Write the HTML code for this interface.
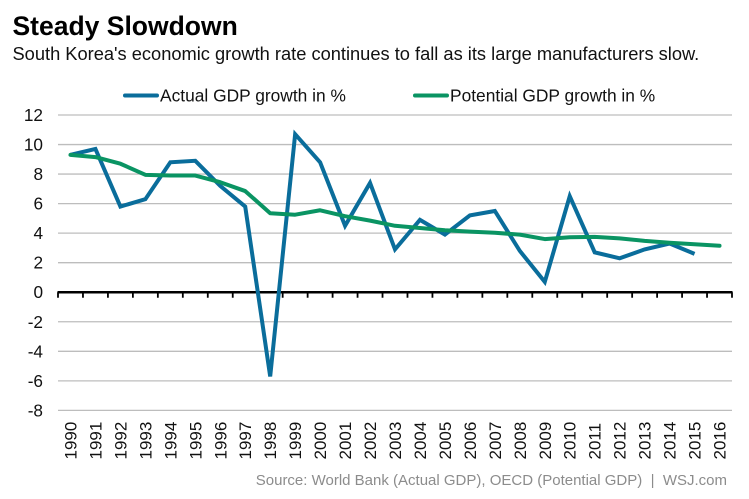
<!DOCTYPE html>
<html>
<head>
<meta charset="utf-8">
<style>
html,body{margin:0;padding:0;background:#fff;width:749px;height:499px;overflow:hidden}
svg{display:block}
text{font-family:"Liberation Sans",Arial,sans-serif;white-space:pre}
</style>
</head>
<body>
<svg id="chart" width="749" height="499" viewBox="0 0 749 499" xmlns="http://www.w3.org/2000/svg">
<rect width="749" height="499" fill="#fff"/>
<text x="12.5" y="35" font-size="26.5" font-weight="bold" fill="#000">Steady Slowdown</text>
<text x="12.5" y="60" font-size="18.28" fill="#111">South Korea's economic growth rate continues to fall as its large manufacturers slow.</text>
<line x1="125" x2="157" y1="95.5" y2="95.5" stroke="#0a6d9b" stroke-width="4" stroke-linecap="round"/>
<text x="160" y="101.5" font-size="17.36" fill="#111">Actual GDP growth in %</text>
<line x1="415" x2="447" y1="95.5" y2="95.5" stroke="#0a9463" stroke-width="4" stroke-linecap="round"/>
<text x="450" y="101.5" font-size="17.36" fill="#111">Potential GDP growth in %</text>
<g id="plot"></g>
<text x="727" y="485" text-anchor="end" font-size="15" fill="#8c8c8c">Source: World Bank (Actual GDP), OECD (Potential GDP)  |  WSJ.com</text>
</svg>
<script>
const years = [1990,1991,1992,1993,1994,1995,1996,1997,1998,1999,2000,2001,2002,2003,2004,2005,2006,2007,2008,2009,2010,2011,2012,2013,2014,2015,2016];
const actualGrowth = [9.3,9.7,5.8,6.3,8.8,8.9,7.2,5.8,-5.7,10.7,8.8,4.5,7.4,2.9,4.9,3.9,5.2,5.5,2.8,0.7,6.5,2.7,2.3,2.9,3.3,2.6];
const potentialGrowth = [9.3,9.15,8.7,7.95,7.9,7.9,7.45,6.85,5.35,5.25,5.55,5.15,4.85,4.5,4.35,4.2,4.1,4.03,3.9,3.6,3.72,3.75,3.65,3.48,3.35,3.25,3.15];
const yTicks = [12,10,8,6,4,2,0,-2,-4,-6,-8];

const NS = 'http://www.w3.org/2000/svg';
const plot = document.getElementById('plot');
const left = 58, right = 732, top_ = 115, bottom = 410.4, yMax = 12, yMin = -8;
const band = (right - left) / years.length;
const xBand = i => left + band * i;
const xPos = i => xBand(i) + band / 2;
const yPos = v => top_ + (yMax - v) * (bottom - top_) / (yMax - yMin);

function make(tag, attrs, text) {
  const el = document.createElementNS(NS, tag);
  for (const k in attrs) el.setAttribute(k, attrs[k]);
  if (text !== undefined) el.textContent = text;
  plot.appendChild(el);
  return el;
}

yTicks.forEach(v => {
  if (v !== 0) {
    const grid = make('line', {x1:left, x2:right, y1:yPos(v), y2:yPos(v), stroke:'#bdbdbd', 'stroke-width':1.3});
    
    
  }
  const lab = make('text', {x:43, y:yPos(v) + 6, 'text-anchor':'end', 'font-size':17.2, fill:'#111'}, String(v));
  
  
});

const axis = make('line', {x1:left - 0.5, x2:right + 0.5, y1:yPos(0), y2:yPos(0), stroke:'#000', 'stroke-width':2.6});



for (let i = 0; i <= years.length; i++) {
  const t = make('line', {x1:xBand(i), x2:xBand(i), y1:yPos(0), y2:yPos(0) + 5.5, stroke:'#000', 'stroke-width':1.8});
  
  
}

years.forEach((yr, i) => {
  const x = xPos(i) + 6, y = 459.5;
  const lab = make('text', {x:x, y:y, transform:'rotate(-90 ' + x + ' ' + y + ')', 'font-size':17, fill:'#111'}, String(yr));
  
  
});

function pts(arr) {
  return arr.map((v, i) => xPos(i).toFixed(2) + ',' + yPos(v).toFixed(2)).join(' ');
}
const lineActual = make('polyline', {points:pts(actualGrowth), fill:'none', stroke:'#0a6d9b', 'stroke-width':4, 'stroke-linejoin':'miter', 'stroke-miterlimit':3});


const linePotential = make('polyline', {points:pts(potentialGrowth), fill:'none', stroke:'#0a9463', 'stroke-width':4, 'stroke-linejoin':'round', 'stroke-linecap':'round'});


</script>
</body>
</html>
